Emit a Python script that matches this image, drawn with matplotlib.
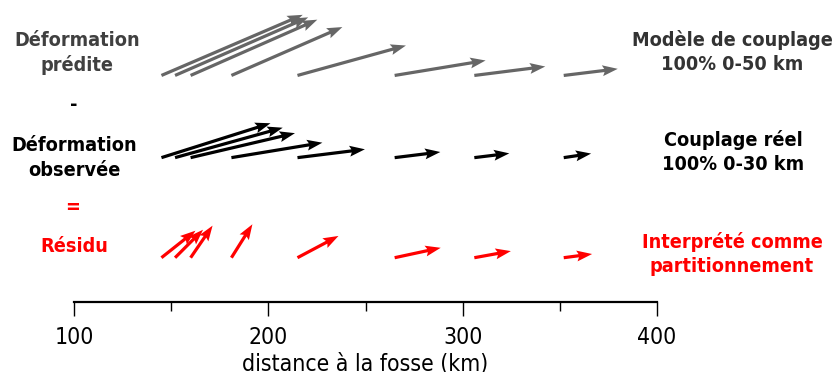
import numpy as np
import matplotlib
matplotlib.use("Agg")
import matplotlib.pyplot as plt
from matplotlib.ticker import MultipleLocator

# station distances to the trench (km)
dist = [145, 152, 160, 181, 215, 265, 306, 352]

# vectors drawn in km units (east, up)
pred_u = [72.7, 68.5, 65.2, 57.1, 55.8, 46.8, 36.5, 27.8]
pred_v = [31.2, 29.9, 28.7, 24.9, 15.4, 7.7, 4.6, 3.4]
obs_u = [56.1, 55.4, 53.7, 46.8, 34.7, 23.5, 18.0, 14.1]
obs_v = [17.7, 15.4, 12.6, 7.7, 4.3, 2.9, 2.2, 2.1]
res_u = [17.5, 14.4, 11.3, 10.8, 21.1, 23.7, 18.8, 14.6]
res_v = [13.9, 14.4, 16.5, 17.2, 11.2, 5.1, 3.4, 1.9]

row_pred = 116.6
row_obs = 74.3
row_res = 22.8

W, H = 838, 372
fig = plt.figure(figsize=(W / 100, H / 100), dpi=100)
ax = fig.add_axes([74 / W, (H - 302) / H, 583 / W, 302 / H])
ax.set_xlim(100, 400)
ax.set_ylim(0, 302 / 1.943)

qkw = dict(angles="xy", scale_units="xy", scale=1, pivot="tail", units="dots",
           width=3.2, headwidth=3.4, headlength=4.8, headaxislength=4.2)
n = len(dist)
ax.quiver(dist, [row_pred] * n, pred_u, pred_v, color="#666666", **qkw)
ax.quiver(dist, [row_obs] * n, obs_u, obs_v, color="black", **qkw)
ax.quiver(dist, [row_res] * n, res_u, res_v, color="#ff0000", **qkw)

for s in ["left", "top", "right"]:
    ax.spines[s].set_visible(False)
ax.spines["bottom"].set_linewidth(1.6)
ax.set_yticks([])
ax.xaxis.set_major_locator(MultipleLocator(100))
ax.xaxis.set_minor_locator(MultipleLocator(50))
ax.tick_params(axis="x", which="major", length=10, width=1, pad=7)
ax.tick_params(axis="x", which="minor", length=6.5, width=1)
tick_font = dict(family="DejaVu Sans", stretch="condensed", size=16.5)
for lab in ax.get_xticklabels():
    lab.set_fontproperties(matplotlib.font_manager.FontProperties(**tick_font))
ax.set_xlabel("distance à la fosse (km)", labelpad=3, fontsize=16.5, fontstretch="condensed")

tk = dict(ha="center", va="center", fontsize=14.2, fontweight="bold",
          fontstretch="condensed", linespacing=1.35)


def label(x, y, s, c):
    fig.text(x / W, 1 - y / H, s, color=c, **tk)


label(77, 53, "Déformation\nprédite", "#404040")
label(74, 105, "-", "black")
label(74, 158, "Déformation\nobservée", "black")
label(73, 208, "=", "#ff0000")
label(74, 247, "Résidu", "#ff0000")
label(732, 52, "Modèle de couplage\n100% 0-50 km", "#333333")
label(733, 152, "Couplage réel\n100% 0-30 km", "black")
label(732, 254, "Interprété comme\npartitionnement", "#ff0000")

fig.savefig("out.png", dpi=100)
